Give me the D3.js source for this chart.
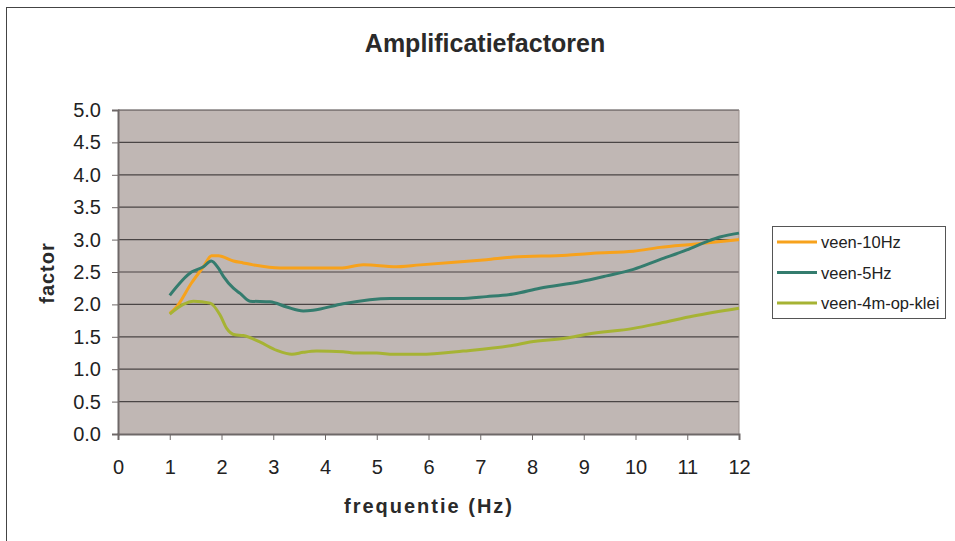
<!DOCTYPE html>
<html>
<head>
<meta charset="utf-8">
<script src="https://cdn.jsdelivr.net/npm/d3@7"></script>
<style>
  body { margin: 0; background: #fff; }
  text { font-family: "Liberation Sans", Arial, sans-serif; }
</style>
</head>
<body>
<div class="chart"></div>
<script>
let xTicks = [0, 1, 2, 3, 4, 5, 6, 7, 8, 9, 10, 11, 12]
let yTicks = [0, 0.5, 1, 1.5, 2, 2.5, 3, 3.5, 4, 4.5, 5]
let names = ['veen-10Hz', 'veen-5Hz', 'veen-4m-op-klei']

let freq10 = [1.0, 1.13, 1.42, 1.65, 1.81, 1.94, 2.23, 2.42, 2.61, 3.13, 4.29, 4.74, 5.0, 5.32, 5.84, 6.5, 7.12, 7.64, 8.67, 9.18, 9.96, 10.47, 11.12, 12.0]
let veen10 = [1.86, 1.96, 2.33, 2.58, 2.75, 2.75, 2.67, 2.64, 2.61, 2.56, 2.56, 2.61, 2.60, 2.58, 2.61, 2.65, 2.69, 2.73, 2.76, 2.79, 2.82, 2.88, 2.93, 3.00]

let freq5 = [1.0, 1.42, 1.65, 1.80, 1.94, 2.04, 2.23, 2.36, 2.55, 2.94, 3.26, 3.58, 3.77, 4.35, 5.26, 6.03, 6.61, 7.12, 7.64, 8.15, 8.93, 9.44, 9.96, 10.47, 10.99, 11.38, 11.63, 12.0]
let veen5 = [2.14, 2.50, 2.58, 2.67, 2.56, 2.43, 2.25, 2.17, 2.05, 2.04, 1.96, 1.90, 1.91, 2.01, 2.09, 2.09, 2.09, 2.12, 2.16, 2.25, 2.35, 2.44, 2.54, 2.69, 2.84, 2.97, 3.04, 3.10]

let freqKlei = [1.0, 1.26, 1.46, 1.78, 1.97, 2.10, 2.26, 2.42, 2.74, 3.07, 3.36, 3.58, 3.84, 4.35, 4.55, 5.0, 5.32, 5.84, 6.67, 7.64, 7.96, 8.67, 9.06, 9.96, 10.47, 11.12, 12.0]
let veenKlei = [1.85, 2.00, 2.05, 2.02, 1.84, 1.63, 1.53, 1.52, 1.42, 1.29, 1.23, 1.26, 1.28, 1.27, 1.25, 1.25, 1.23, 1.23, 1.28, 1.37, 1.42, 1.48, 1.54, 1.63, 1.71, 1.82, 1.94]

let colors = ['#F7A21C', '#347C6E', '#A6B334']

let width = 955
let height = 541
let plotLeft = 118, plotRight = 739, plotTop = 110, plotBottom = 434

let svg = d3.select('.chart')
  .append('svg')
  .attr('width', width)
  .attr('height', height)

// outer frame
svg.append('rect')
  .attr('x', 6.5).attr('y', 7.5)
  .attr('width', 970).attr('height', 560)
  .attr('fill', 'none')
  .attr('stroke', '#444')
  .attr('stroke-width', 1)

let xScale = d3.scaleLinear().domain([0, 12]).range([plotLeft, plotRight])
let yScale = d3.scaleLinear().domain([0, 5]).range([plotBottom, plotTop])

// plot background
svg.append('rect')
  .attr('x', plotLeft).attr('y', plotTop)
  .attr('width', plotRight - plotLeft).attr('height', plotBottom - plotTop)
  .attr('fill', '#C0B7B4')

// gridlines
svg.append('g')
  .selectAll('line')
  .data(yTicks.slice(1))
  .enter()
  .append('line')
  .attr('x1', plotLeft).attr('x2', plotRight)
  .attr('y1', d => yScale(d)).attr('y2', d => yScale(d))
  .attr('stroke', '#4a4545')
  .attr('stroke-width', 1.2)

// right edge of plot
svg.append('line')
  .attr('x1', plotRight).attr('x2', plotRight)
  .attr('y1', plotTop).attr('y2', plotBottom)
  .attr('stroke', '#9a8f8c')

let yAxis = d3.axisLeft(yScale)
  .tickValues(yTicks)
  .tickFormat(d3.format('.1f'))
  .tickSize(6)
  .tickPadding(11)

let xAxis = d3.axisBottom(xScale)
  .tickValues(xTicks)
  .tickSize(6)
  .tickPadding(20)

let gy = svg.append('g')
  .attr('transform', `translate(${plotLeft},0)`)
  .call(yAxis)
gy.select('.domain').attr('stroke', '#6e6868').attr('stroke-width', 2)
gy.selectAll('.tick line').attr('stroke', '#6e6868')
gy.selectAll('text').attr('font-size', 20).attr('fill', '#222')
  .style('font-family', '"Liberation Sans", Arial, sans-serif')

let gx = svg.append('g')
  .attr('transform', `translate(0,${plotBottom})`)
  .call(xAxis)
gx.select('.domain').attr('stroke', '#6e6868').attr('stroke-width', 2)
gx.selectAll('.tick line').attr('stroke', '#6e6868')
gx.selectAll('text').attr('font-size', 20).attr('fill', '#222')
  .style('font-family', '"Liberation Sans", Arial, sans-serif')

// series
let series = [
  { name: names[0], x: freq10, y: veen10 },
  { name: names[1], x: freq5, y: veen5 },
  { name: names[2], x: freqKlei, y: veenKlei }
]

let line = d3.line()
  .x(d => xScale(d[0]))
  .y(d => yScale(d[1]))
  .curve(d3.curveMonotoneX)

series.forEach((s, i) => {
  svg.append('path')
    .datum(s.x.map((v, j) => [v, s.y[j]]))
    .attr('d', line)
    .attr('fill', 'none')
    .attr('stroke', colors[i])
    .attr('stroke-width', 3)
    .attr('stroke-linejoin', 'round')
})

// titles
svg.append('text')
  .attr('x', 485).attr('y', 52)
  .attr('text-anchor', 'middle')
  .attr('font-size', 25).attr('font-weight', 'bold')
  .attr('fill', '#2a2a2a')
  .text('Amplificatiefactoren')

svg.append('text')
  .attr('x', 429).attr('y', 513)
  .attr('text-anchor', 'middle')
  .attr('font-size', 20).attr('font-weight', 'bold')
  .attr('letter-spacing', 2)
  .attr('fill', '#2a2a2a')
  .text('frequentie (Hz)')

svg.append('text')
  .attr('transform', 'translate(54,273) rotate(-90)')
  .attr('text-anchor', 'middle')
  .attr('font-size', 20).attr('font-weight', 'bold')
  .attr('letter-spacing', 1)
  .attr('fill', '#2a2a2a')
  .text('factor')

// legend
let legend = svg.append('g')
legend.append('rect')
  .attr('x', 772.5).attr('y', 226.5)
  .attr('width', 173).attr('height', 92)
  .attr('fill', '#fff')
  .attr('stroke', '#555')

names.forEach((item, i) => {
  let y = 242 + i * 30.5
  legend.append('line')
    .attr('x1', 777).attr('x2', 817)
    .attr('y1', y).attr('y2', y)
    .attr('stroke', colors[i])
    .attr('stroke-width', 3)
  legend.append('text')
    .attr('x', 821).attr('y', y + 6)
    .attr('font-size', 16.5)
    .attr('fill', '#222')
    .text(item)
})
</script>
</body>
</html>
